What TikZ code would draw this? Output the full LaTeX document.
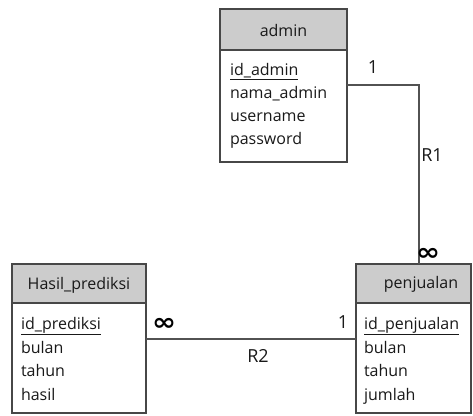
\documentclass[tikz,border=0pt]{standalone}
\usepackage{fontspec}
\setmainfont{Open Sans}
\newfontfamily\symfont{DejaVu Sans}
\begin{document}
\begin{tikzpicture}[x=1pt,y=-1pt,
  every node/.style={inner sep=0pt, outer sep=0pt, font=\fontsize{16}{18}\selectfont, text=black!90},
  hdr/.style={draw=black!72, line width=1.5pt, fill=black!20, anchor=north west},
  bdy/.style={draw=black!72, line width=1.5pt, fill=white, anchor=north west},
  field/.style={anchor=base west},
  conn/.style={draw=black!68, line width=1.5pt},
  card/.style={font=\fontsize{18}{20}\selectfont},
  inf/.style={font=\symfont\bfseries\fontsize{24}{24}\selectfont, text=black, xscale=1.2}]
\useasboundingbox (0,0) rectangle (473,415);

% admin
\node[bdy, minimum width=127pt, minimum height=112pt] (adminB) at (220,50) {};
\node[hdr, minimum width=127pt, minimum height=41pt] (adminH) at (220,9) {};
\node at (283.5,30) {admin};
\node[field] (a1) at (230,75) {\underline{id\_admin}};
\node[field] (a2) at (230,98) {nama\_admin};
\node[field] (a3) at (230,121) {username};
\node[field] (a4) at (230,144) {password};

% Hasil_prediksi
\node[bdy, minimum width=134pt, minimum height=110pt] (hasilB) at (12,303) {};
\node[hdr, minimum width=134pt, minimum height=39pt] (hasilH) at (12,264) {};
\node at (79,285) {Hasil\_prediksi};
\node[field] (h1) at (21,329) {\underline{id\_prediksi}};
\node[field] (h2) at (21,353) {bulan};
\node[field] (h3) at (21,376) {tahun};
\node[field] (h4) at (21,400) {hasil};

% penjualan
\node[bdy, minimum width=115pt, minimum height=110pt] (penjB) at (356,303) {};
\node[hdr, minimum width=115pt, minimum height=39pt] (penjH) at (356,264) {};
\node at (421,284) {penjualan};
\node[field] (p1) at (364,329) {\underline{id\_penjualan}};
\node[field] (p2) at (364,353) {bulan};
\node[field] (p3) at (364,376) {tahun};
\node[field] (p4) at (364,400) {jumlah};

% relationships
\coordinate (r1bend) at (419,85);
\draw[conn] (adminB.east |- r1bend) -- (r1bend) -- (r1bend |- penjH.north);
\draw[conn] (hasilB.east |- 0,339) -- (penjB.west |- 0,339);

\node[card] (c1) at (373,67) {1};
\node[card] (rl1) at (432,155) {R1};
\node[inf] (c2) at (428,254) {∞};
\node[inf] (c3) at (164,324) {∞};
\node[card] (c4) at (343,322) {1};
\node[card] (rl2) at (258,356) {R2};
\end{tikzpicture}
\end{document}
